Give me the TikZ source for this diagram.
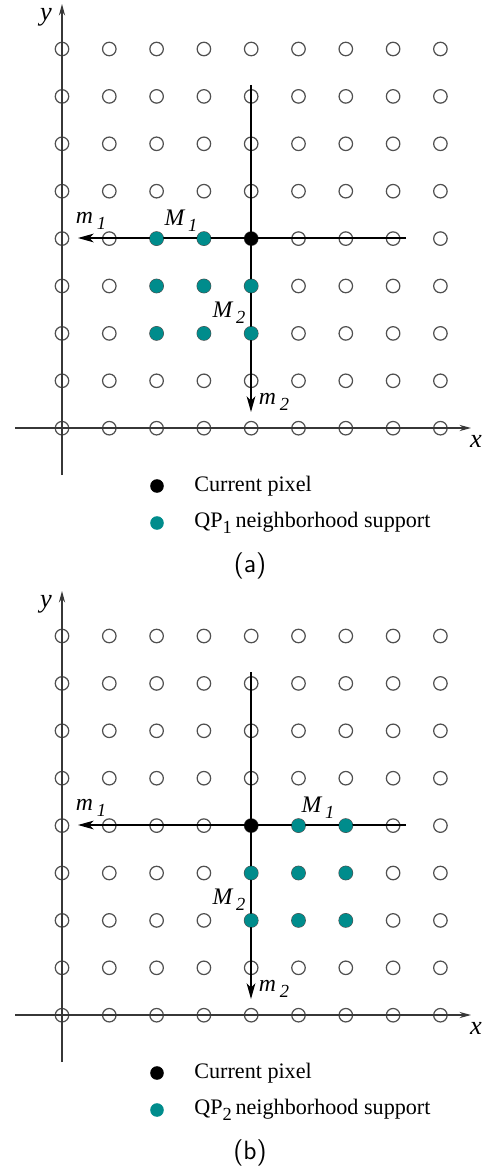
\documentclass[tikz,border=0pt]{standalone}
\usepackage{fontspec}
\setmainfont{Liberation Serif}
\usepackage{tikz}
\usetikzlibrary{arrows.meta,positioning}
\definecolor{gridgray}{RGB}{80,80,80}
\definecolor{axisgray}{RGB}{55,55,55}
\definecolor{nbteal}{RGB}{0,140,140}
\newcommand{\isub}[2]{#1\,\raisebox{-0.55ex}{\fontsize{10.5}{11}\selectfont #2}}
\tikzset{
  gridpt/.style = {
    circle, draw=gridgray, line width=0.7pt,
    minimum size=0.27cm, inner sep=0pt
  },
  curpt/.style = {
    circle, fill=black, draw=black, line width=0.6pt,
    minimum size=0.25cm, inner sep=0pt
  },
  nbpt/.style = {
    circle, fill=nbteal, draw=nbteal, line width=0.6pt,
    minimum size=0.25cm, inner sep=0pt
  },
  axis/.style = {-{Stealth[length=6.5pt, width=3.5pt]}, draw=axisgray, line width=0.65pt},
  marr/.style = {-{Stealth[length=9pt, width=5pt, inset=2.5pt]}, draw=black, line width=0.6pt},
  lbl/.style  = {font=\fontsize{13.5}{15}\selectfont\itshape, inner sep=0pt},
  axlbl/.style = {font=\fontsize{15}{17}\selectfont\itshape, inner sep=0pt},
  legtxt/.style = {font=\fontsize{12.6}{15}\selectfont, anchor=west, inner sep=0pt},
  caplbl/.style = {font=\fontsize{15}{17}\selectfont\sffamily, inner sep=0pt},
}

\begin{document}
\begin{tikzpicture}[x=0.02cm, y=-0.02cm]
  \useasboundingbox (0,0) rectangle (491,1169);

  \foreach \p/\oy/\q/\ca/\cb/\mx in {a/0/1/2/3/181, b/587/2/5/6/318} {
    % sample grid
    \foreach \i in {0,...,8}
      \foreach \j in {0,...,8}
        \node[gridpt] (\p-\i-\j) at ({62+47.3*\i}, {\oy+49+47.4*\j}) {};

    % axes
    \coordinate (\p-x0) at (15, \oy+428);
    \coordinate (\p-x1) at (471, \oy+428);
    \coordinate (\p-y0) at (62, \oy+475);
    \coordinate (\p-y1) at (62, \oy+4);
    \draw[axis] (\p-x0) -- (\p-x1);
    \draw[axis] (\p-y0) -- (\p-y1);
    \node[axlbl] (\p-xl) at (476, \oy+441) {x};
    \node[axlbl] (\p-yl) at (46, \oy+17) {y};

    % scan directions
    \coordinate (\p-h0) at (406, \oy+238);
    \coordinate (\p-h1) at (78, \oy+238);
    \coordinate (\p-v0) at (251, \oy+85);
    \coordinate (\p-v1) at (251, \oy+412);
    \draw[marr] (\p-h0) -- (\p-h1);
    \draw[marr] (\p-v0) -- (\p-v1);
    \node[lbl] (\p-m1) at (91, \oy+221) {\isub{m}{1}};
    \node[lbl] (\p-m2) at (274, \oy+402) {\isub{m}{2}};
    \node[lbl] (\p-M1) at (\mx, \oy+221) {\isub{M}{1}};
    \node[lbl] (\p-M2) at (229, \oy+313) {\isub{M}{2}};

    % current pixel and neighbourhood
    \node[curpt] (\p-cur) at (\p-4-4) {};
    \foreach \c in {\ca,\cb}
      \foreach \r in {4,5,6}
        \node[nbpt] at (\p-\c-\r) {};
    \foreach \r in {5,6}
      \node[nbpt] at (\p-4-\r) {};

    % legend
    \node[curpt] (\p-lc) at (157, \oy+486) {};
    \node[nbpt]  (\p-ln) at (157, \oy+523) {};
    \node[legtxt] (\p-lct) at (194, \oy+486) {Current pixel};
    \node[legtxt] (\p-lnt) at (194, \oy+523) {QP\raisebox{-0.6ex}{\fontsize{10.5}{11}\selectfont \q}\,neighborhood support};
    \node[caplbl] (\p-cap) at (250, \oy+566) {(\p)};
  }
\end{tikzpicture}
\end{document}
